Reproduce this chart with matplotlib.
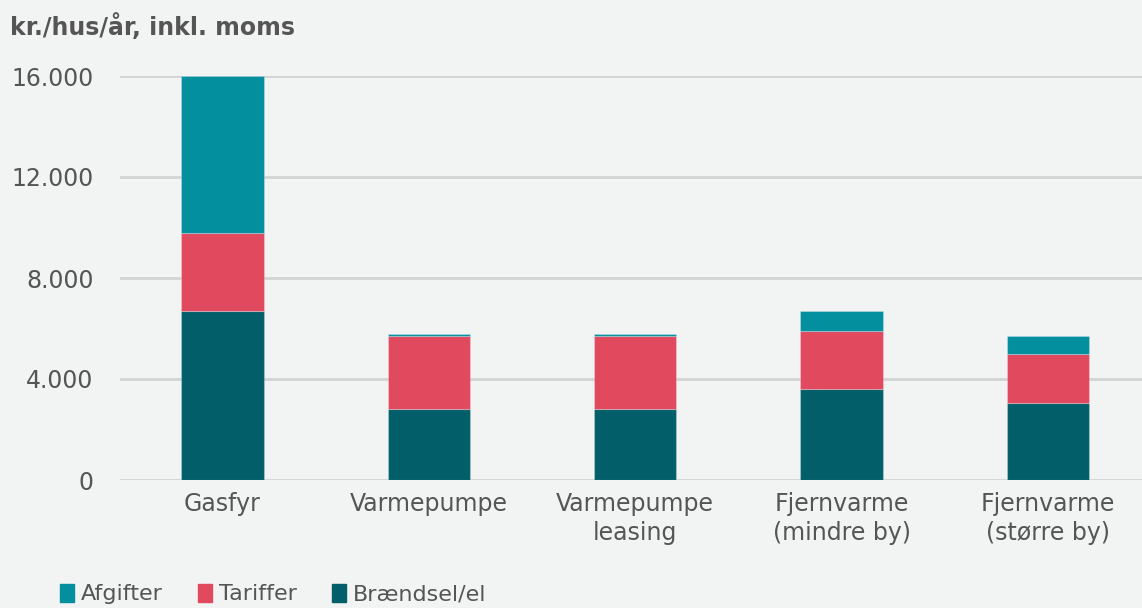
import matplotlib.pyplot as plt
import numpy as np
from matplotlib.patches import Patch

categories = ['Gasfyr', 'Varmepumpe', 'Varmepumpe\nleasing', 'Fjernvarme\n(mindre by)', 'Fjernvarme\n(større by)']
braendsel = [6700, 2820, 2820, 3590, 3040]
tariffer = [3070, 2900, 2900, 2300, 1940]
afgifter = [6230, 60, 60, 800, 710]
yticks = [0, 4000, 8000, 12000, 16000]
ytick_labels = ['0', '4.000', '8.000', '12.000', '16.000']

bg = '#f2f3f3'
txt = '#555555'
c_afg = '#038f9e'
c_tar = '#e0495e'
c_brn = '#025f69'

plt.rcParams['font.family'] = 'DejaVu Sans'

fig = plt.figure(figsize=(11.42, 6.08), dpi=100, facecolor=bg)
ax = fig.add_axes([120/1142, 1-480/608, 1-120/1142, (480-76)/608])
ax.set_facecolor(bg)

x = np.arange(len(categories))
w = 0.4
b1 = np.array(braendsel)
b2 = b1 + np.array(tariffer)
ax.bar(x, braendsel, w, color=c_brn, edgecolor='#ffffff40', linewidth=0.8, zorder=3)
ax.bar(x, tariffer, w, bottom=b1, color=c_tar, edgecolor='#ffffff40', linewidth=0.8, zorder=3)
ax.bar(x, afgifter, w, bottom=b2, color=c_afg, edgecolor='#ffffff40', linewidth=0.8, zorder=3)

ax.set_ylim(0, 16000)
ax.set_xlim(-0.497, 4.456)
ax.set_yticks(yticks)
ax.set_yticklabels(ytick_labels)
ax.set_xticks(x)
ax.set_xticklabels(categories, linespacing=1.25)
ax.yaxis.grid(True, color='#d2d3d3', linewidth=2, zorder=0)
ax.tick_params(axis='both', length=0, labelsize=17, labelcolor=txt)
ax.tick_params(axis='y', pad=19)
ax.tick_params(axis='x', pad=9)
for s in ax.spines.values():
    s.set_visible(False)

fig.text(10/1142, 1-27/608, 'kr./hus/år, inkl. moms', fontsize=17, fontweight='bold',
         color=txt, va='center', ha='left')

handles = [Patch(color=c_afg, label='Afgifter'),
           Patch(color=c_tar, label='Tariffer'),
           Patch(color=c_brn, label='Brændsel/el')]
fig.legend(handles=handles, loc='lower left', bbox_to_anchor=(40/1142, -0.027), ncol=3,
           frameon=False, fontsize=16, labelcolor=txt, handlelength=0.63, handleheight=0.86,
           handletextpad=0.3, columnspacing=1.6)

fig.savefig('out.png', dpi=100, facecolor=bg)
